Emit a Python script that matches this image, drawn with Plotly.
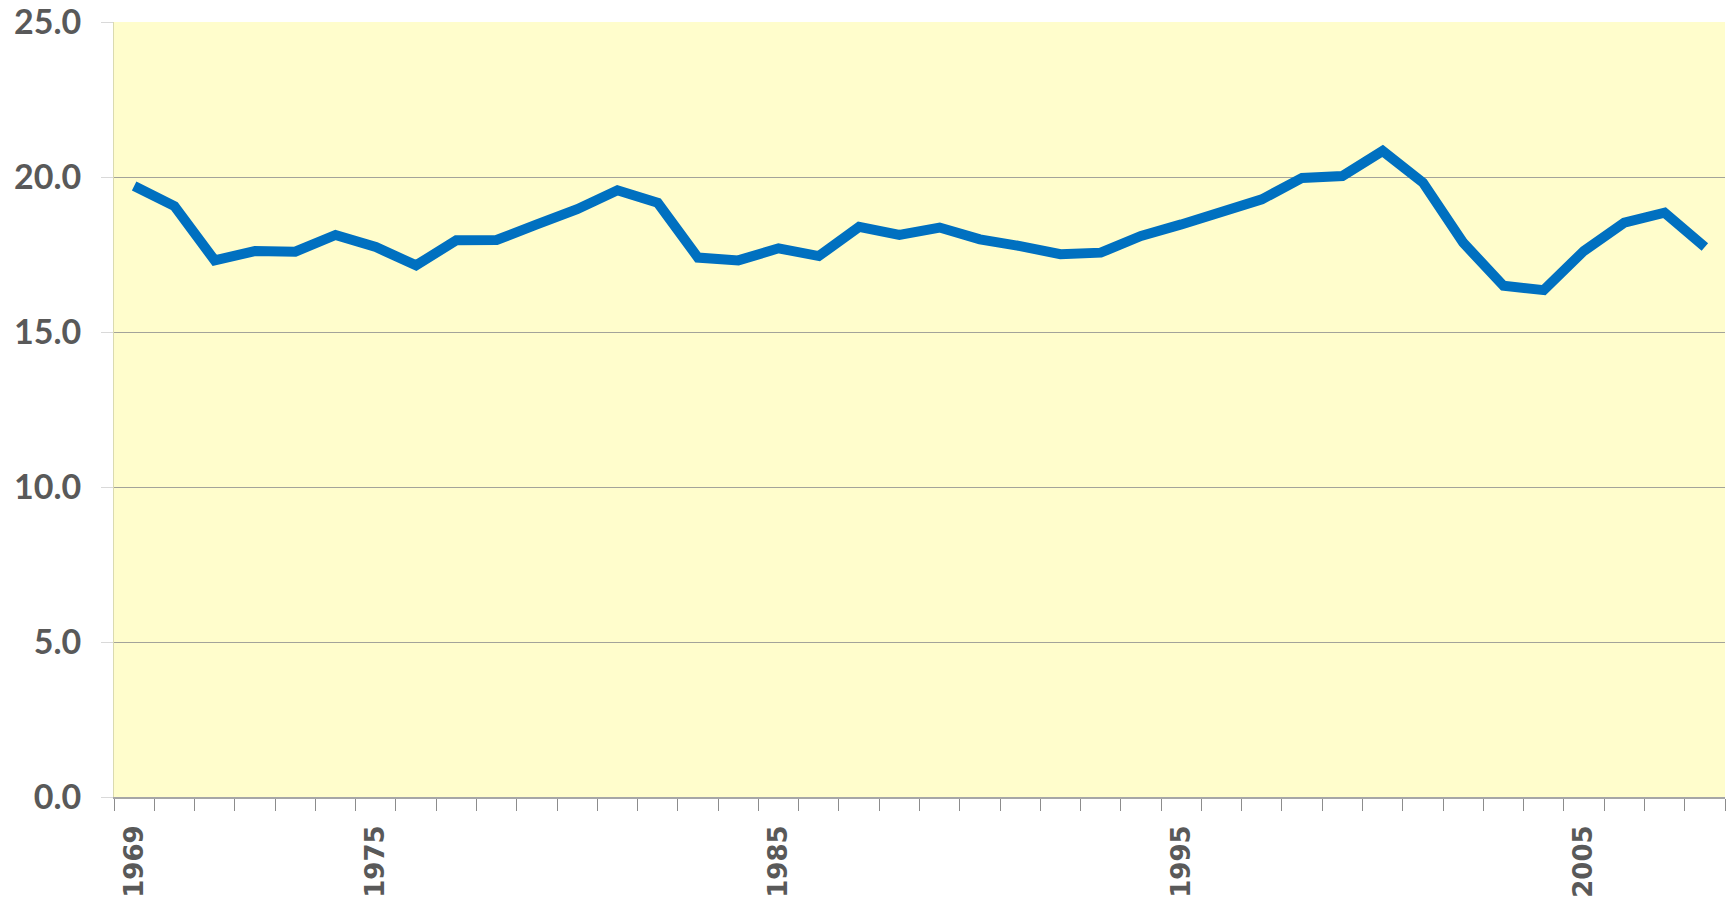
import plotly.graph_objects as go

years = [str(y) for y in range(1969, 2009)]
values = [19.71, 19.06, 17.31, 17.61, 17.59, 18.13, 17.74, 17.15, 17.96, 17.97,
          18.47, 18.96, 19.57, 19.17, 17.40, 17.31, 17.70, 17.45, 18.39, 18.13,
          18.37, 17.99, 17.77, 17.51, 17.56, 18.10, 18.47, 18.87, 19.28, 19.97,
          20.03, 20.84, 19.82, 17.88, 16.49, 16.35, 17.62, 18.53, 18.85, 17.74]
shown_labels = ["1969", "1975", "1985", "1995", "2005"]
y_ticks = [0, 5, 10, 15, 20, 25]

tick_text = [y if y in shown_labels else "" for y in years]

fig = go.Figure()
fig.add_trace(go.Scatter(
    x=years, y=values, mode="lines",
    line=dict(color="#0070C0", width=10),
    showlegend=False, hoverinfo="x+y",
))

fig.update_layout(
    width=1733, height=905,
    margin=dict(l=114, r=8, t=22, b=108, autoexpand=False),
    paper_bgcolor="white",
    plot_bgcolor="#FFFDCC",
    showlegend=False,
)

fig.update_xaxes(
    type="category",
    range=[-0.5, len(years) - 0.5],
    tickmode="array", tickvals=years, ticktext=tick_text,
    tickson="boundaries",
    ticks="outside", ticklen=12, tickcolor="#8C8C8C", tickwidth=1,
    tickangle=-90,
    tickfont=dict(family="DejaVu Sans", size=26, color="#595959", weight="bold"),
    ticklabelstandoff=16,
    ticklabeloverflow="allow",
    showline=True, linecolor="#A6A6A6", linewidth=2,
    showgrid=False, zeroline=False, automargin=False,
)

fig.update_yaxes(
    range=[0, 25],
    tickmode="array", tickvals=y_ticks,
    tickformat=".1f",
    ticks="outside", ticklen=12, tickcolor="#D9D9D9", tickwidth=1,
    tickfont=dict(family="Lato", size=34, color="#595959", weight="bold"),
    ticklabelstandoff=13,
    ticklabeloverflow="allow",
    showline=True, linecolor="#DADAB0", linewidth=1,
    showgrid=True, gridcolor="#A3A39A", gridwidth=1,
    zeroline=False, automargin=False,
)

fig.write_html(
    "out.html",
    config={"displayModeBar": False},
    post_script="document.body.style.margin='0';document.body.style.overflow='hidden';",
)
